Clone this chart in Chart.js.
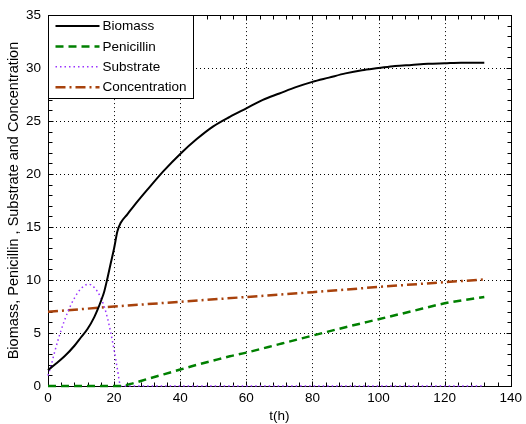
<!DOCTYPE html>
<html>
<head>
<meta charset="utf-8">
<script src="https://cdn.jsdelivr.net/npm/chart.js@4.4.1/dist/chart.umd.min.js"></script>
<style>
  html, body { margin: 0; padding: 0; background: #fff; }
  #wrap { width: 526px; height: 424px; }
</style>
</head>
<body>
<div id="wrap"><canvas id="penChart" width="526" height="424"></canvas></div>
<script>
// Data
const tBiomass = [0, 2, 5, 8, 10, 12, 14, 15, 16, 17, 18, 19, 20, 21, 22, 24, 26, 30, 35, 40, 45, 50, 55, 60, 65, 70, 75, 80, 85, 90, 95, 100, 105, 110, 115, 120, 125, 132];
const biomass = [1.5, 2.0, 2.8, 3.8, 4.6, 5.4, 6.5, 7.2, 8.0, 8.9, 10.2, 11.6, 13.0, 14.6, 15.4, 16.2, 17.0, 18.5, 20.3, 21.9, 23.3, 24.5, 25.4, 26.2, 27.0, 27.6, 28.2, 28.7, 29.1, 29.5, 29.8, 30.0, 30.2, 30.3, 30.4, 30.45, 30.5, 30.5];

const tPenicillin = [0, 22, 25, 30, 35, 40, 45, 50, 55, 60, 70, 80, 90, 100, 110, 120, 132];
const penicillin = [0, 0, 0.2, 0.65, 1.1, 1.55, 2.0, 2.4, 2.8, 3.15, 3.95, 4.75, 5.55, 6.3, 7.05, 7.8, 8.4];

const tSubstrate = [0, 1, 2, 3, 4, 5, 6, 7, 8, 9, 10, 11, 12, 13, 14, 15, 16, 17, 18, 19, 20, 21, 22, 132];
const substrate = [1.0, 2.0, 3.2, 4.3, 5.3, 6.2, 7.0, 7.7, 8.3, 8.8, 9.2, 9.45, 9.6, 9.55, 9.3, 8.9, 8.3, 7.5, 6.4, 5.0, 3.4, 1.6, 0, 0];

const tConcentration = [0, 20, 40, 60, 80, 100, 120, 132];
const concentration = [7.0, 7.5, 7.95, 8.4, 8.85, 9.35, 9.8, 10.05];

const seriesNames = ['Biomass', 'Penicillin', 'Substrate', 'Concentration'];
const xTicks = [0, 20, 40, 60, 80, 100, 120, 140];
const yTicks = [0, 5, 10, 15, 20, 25, 30, 35];

const toPoints = (xs, ys) => xs.map((x, i) => ({ x: x, y: ys[i] }));

const fontFamily = '"Liberation Sans", Arial, sans-serif';
Chart.defaults.font.family = fontFamily;
Chart.defaults.font.size = 13.5;
Chart.defaults.color = '#000';

// grid, box and inward ticks like the original figure
const axesBox = {
    id: 'axesBox',
    beforeDatasetsDraw(chart) {
        const { ctx, chartArea: a, scales: { x, y } } = chart;
        ctx.save();
        ctx.strokeStyle = '#000';
        ctx.lineWidth = 1;
        ctx.setLineDash([1, 3]);
        xTicks.slice(1, -1).forEach(v => {
            const px = Math.round(x.getPixelForValue(v)) + 0.5;
            ctx.beginPath(); ctx.moveTo(px, a.top); ctx.lineTo(px, a.bottom); ctx.stroke();
        });
        yTicks.slice(1, -1).forEach(v => {
            const py = Math.round(y.getPixelForValue(v)) + 0.5;
            ctx.beginPath(); ctx.moveTo(a.left, py); ctx.lineTo(a.right, py); ctx.stroke();
        });
        ctx.setLineDash([]);
        const L = Math.round(a.left) + 0.5, R = Math.round(a.right) + 0.5;
        const T = Math.round(a.top) + 0.5, B = Math.round(a.bottom) + 0.5;
        ctx.strokeRect(L, T, R - L, B - T);
        ctx.beginPath();
        for (let v = 0; v <= 140; v += 4) {
            const px = Math.round(x.getPixelForValue(v)) + 0.5;
            const len = v % 20 === 0 ? 5 : 4;
            ctx.moveTo(px, B); ctx.lineTo(px, B - len);
            ctx.moveTo(px, T); ctx.lineTo(px, T + len);
        }
        for (let v = 0; v <= 35; v += 1) {
            const py = Math.round(y.getPixelForValue(v)) + 0.5;
            const len = v % 5 === 0 ? 5 : 4;
            ctx.moveTo(L, py); ctx.lineTo(L + len, py);
            ctx.moveTo(R, py); ctx.lineTo(R - len, py);
        }
        ctx.stroke();
        ctx.restore();
    },
    afterDraw(chart) {
        // legend box in the top-left corner
        const { ctx, chartArea: a } = chart;
        const left = Math.round(a.left) + 0.5, top = Math.round(a.top) + 0.5;
        const w = 145, h = 83;
        ctx.save();
        ctx.fillStyle = '#fff';
        ctx.fillRect(left, top, w, h);
        ctx.strokeStyle = '#000';
        ctx.lineWidth = 1;
        ctx.strokeRect(left, top, w, h);
        ctx.font = '13.5px ' + fontFamily;
        ctx.textBaseline = 'middle';
        ctx.fillStyle = '#000';
        chart.data.datasets.forEach((ds, i) => {
            const cy = Math.round(a.top) + 11 + i * 20.4;
            ctx.save();
            ctx.strokeStyle = ds.borderColor;
            ctx.lineWidth = ds.borderWidth;
            ctx.setLineDash(ds.borderDash || []);
            ctx.beginPath();
            ctx.moveTo(left + 7, cy); ctx.lineTo(left + 51, cy);
            ctx.stroke();
            ctx.restore();
            ctx.fillText(ds.label, left + 54, cy + 0.5);
        });
        ctx.restore();
    }
};

const ctx = document.getElementById('penChart').getContext('2d');
const penChart = new Chart(ctx, {
    type: 'line',
    data: {
        datasets: [{
            label: seriesNames[0],
            data: toPoints(tBiomass, biomass),
            borderColor: '#000000',
            borderWidth: 2,
            pointRadius: 0,
            cubicInterpolationMode: 'monotone',
            clip: 4
        }, {
            label: seriesNames[1],
            data: toPoints(tPenicillin, penicillin),
            borderColor: '#008000',
            borderWidth: 2.5,
            borderDash: [8, 5],
            pointRadius: 0,
            cubicInterpolationMode: 'monotone',
            clip: 4
        }, {
            label: seriesNames[2],
            data: toPoints(tSubstrate, substrate),
            borderColor: '#9933ff',
            borderWidth: 1.5,
            borderDash: [1.5, 3],
            pointRadius: 0,
            cubicInterpolationMode: 'monotone',
            clip: 4
        }, {
            label: seriesNames[3],
            data: toPoints(tConcentration, concentration),
            borderColor: '#a8420c',
            borderWidth: 2.5,
            borderDash: [10, 4, 2, 4],
            pointRadius: 0,
            tension: 0,
            clip: 4
        }]
    },
    options: {
        responsive: false,
        animation: false,
        layout: { padding: { top: 15, right: 12, left: 0, bottom: 0 } },
        plugins: {
            legend: { display: false },
            tooltip: { enabled: false }
        },
        scales: {
            x: {
                type: 'linear',
                min: 0,
                max: 140,
                afterFit: s => { s.height = 38; },
                afterBuildTicks: s => { s.ticks = xTicks.map(v => ({ value: v })); },
                ticks: { padding: 4, maxRotation: 0, autoSkip: false },
                grid: { display: false, drawTicks: false },
                border: { display: false },
                title: { display: true, text: 't(h)', padding: { top: 0, bottom: 0 } }
            },
            y: {
                type: 'linear',
                min: 0,
                max: 35,
                afterFit: s => { s.width = 48; },
                afterBuildTicks: s => { s.ticks = yTicks.map(v => ({ value: v })); },
                ticks: { padding: 7, autoSkip: false },
                grid: { display: false, drawTicks: false },
                border: { display: false },
                title: { display: true, text: 'Biomass, Penicillin , Substrate and Concentration', font: { size: 14.5 }, padding: { top: 5, bottom: 0 } }
            }
        }
    },
    plugins: [axesBox]
});
</script>
</body>
</html>
